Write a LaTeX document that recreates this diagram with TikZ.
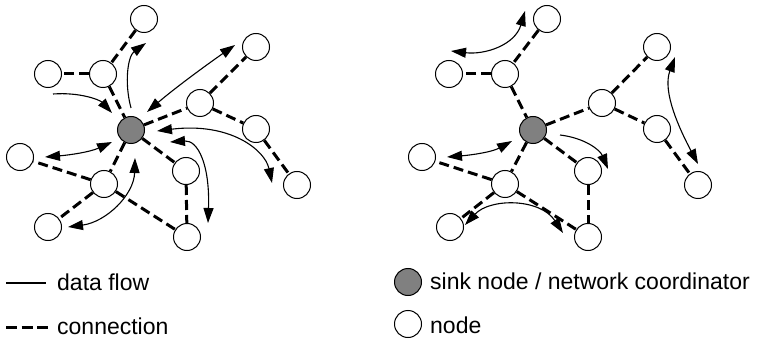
\documentclass[tikz,border=0pt]{standalone}
\usepackage{fontspec}
\setmainfont{Liberation Sans}
\usetikzlibrary{arrows.meta}
\tikzset{
  nd/.style={circle,draw,line width=1pt,minimum size=27pt,inner sep=0pt,fill=white},
  sink/.style={nd,fill={rgb,255:red,128;green,128;blue,128}},
  conn/.style={line width=3pt,dash pattern=on 10pt off 5pt},
  flow/.style={line width=1.1pt,-{Triangle[length=15pt,width=10pt]}},
  flow2/.style={line width=1.1pt,{Triangle[length=15pt,width=10pt]}-{Triangle[length=15pt,width=10pt]}},
  lgd/.style={anchor=base west,font=\fontsize{23}{27}\selectfont,inner sep=0pt},
}
\begin{document}
\begin{tikzpicture}[x=1pt,y=-1pt]
\useasboundingbox (0,0) rectangle (757,339);
% ---------- left graph ----------
\node[sink] (lS) at (131,130) {};
\node[nd] (lT) at (144,19) {};
\node[nd] (lML) at (103,74) {};
\node[nd] (lLL) at (48,74) {};
\node[nd] (lUR) at (256,47) {};
\node[nd] (lMR) at (200,103) {};
\node[nd] (lR2) at (256,129) {};
\node[nd] (lFR) at (297,185) {};
\node[nd] (lL) at (20,157) {};
\node[nd] (lC) at (104,184) {};
\node[nd] (lBL) at (48,227) {};
\node[nd] (lCR) at (186,171) {};
\node[nd] (lBR) at (187,237) {};
\foreach \a/\b in {lT/lML,lML/lLL,lML/lS,lS/lMR,lMR/lUR,lMR/lR2,lR2/lFR,lS/lCR,lCR/lBR,lS/lC,lC/lL,lC/lBL,lC/lBR}
  \draw[conn] (\a) -- (\b);
\coordinate (la1s) at (53,94);   \coordinate (la1e) at (112,113);
\coordinate (la2s) at (131,108); \coordinate (la2e) at (146,43);
\coordinate (la3s) at (147,112); \coordinate (la3e) at (235,45);
\coordinate (la4s) at (157,131); \coordinate (la4e) at (272,183);
\coordinate (la5s) at (170,142); \coordinate (la5e) at (208,223);
\coordinate (la6s) at (45,157);  \coordinate (la6e) at (112,142);
\coordinate (la7s) at (135,158); \coordinate (la7e) at (68,227);
\draw[flow] (la1s) .. controls (80,92) and (100,100) .. (la1e);
\draw[flow] (la2s) .. controls (124,82) and (128,56) .. (la2e);
\draw[flow2] (la3s) .. controls (175,88) and (205,66) .. (la3e);
\draw[flow2] (la4s) .. controls (230,122) and (265,150) .. (la4e);
\draw[flow2] (la5s) .. controls (198,140) and (210,165) .. (la5e);
\draw[flow2] (la6s) .. controls (70,155) and (90,152) .. (la6e);
\draw[flow2] (la7s) .. controls (134,195) and (106,222) .. (la7e);
% ---------- right graph ----------
\node[sink] (rS) at (533,130) {};
\node[nd] (rT) at (547,19) {};
\node[nd] (rML) at (505,74) {};
\node[nd] (rLL) at (449,74) {};
\node[nd] (rUR) at (657,47) {};
\node[nd] (rMR) at (602,103) {};
\node[nd] (rR2) at (657,129) {};
\node[nd] (rFR) at (698,185) {};
\node[nd] (rL) at (422,157) {};
\node[nd] (rC) at (505,184) {};
\node[nd] (rBL) at (450,227) {};
\node[nd] (rCR) at (588,171) {};
\node[nd] (rBR) at (588,237) {};
\foreach \a/\b in {rT/rML,rML/rLL,rML/rS,rS/rMR,rMR/rUR,rMR/rR2,rR2/rFR,rS/rCR,rCR/rBR,rS/rC,rC/rL,rC/rBL,rC/rBR}
  \draw[conn] (\a) -- (\b);
\coordinate (rb1s) at (525,11);  \coordinate (rb1e) at (451,51);
\coordinate (rb2s) at (447,157); \coordinate (rb2e) at (512,141);
\coordinate (rb3s) at (560,135); \coordinate (rb3e) at (608,169);
\coordinate (rb4s) at (675,57);  \coordinate (rb4e) at (698,164);
\coordinate (rb5s) at (465,225); \coordinate (rb5e) at (563,233);
\draw[flow2] (rb1s) .. controls (515,45) and (485,55) .. (rb1e);
\draw[flow2] (rb2s) .. controls (472,155) and (492,152) .. (rb2e);
\draw[flow] (rb3s) .. controls (585,138) and (600,150) .. (rb3e);
\draw[flow2] (rb4s) .. controls (662,92) and (680,130) .. (rb4e);
\draw[flow2] (rb5s) .. controls (490,198) and (540,198) .. (rb5e);
% ---------- legend ----------
\coordinate (lg1a) at (6,283); \coordinate (lg1b) at (46,283);
\draw[line width=1.1pt] (lg1a) -- (lg1b);
\node[lgd] (tflow) at (57,290) {data flow};
\coordinate (lg2a) at (6,327); \coordinate (lg2b) at (48,327);
\draw[line width=3pt,dash pattern=on 11pt off 4.5pt] (lg2a) -- (lg2b);
\node[lgd] (tconn) at (57,334) {connection};
\node[sink] (lgsink) at (408,282) {};
\node[lgd] (tsink) at (430,289) {sink node / network coordinator};
\node[nd] (lgnode) at (408,324) {};
\node[lgd] (tnode) at (430,333) {node};
\end{tikzpicture}
\end{document}
